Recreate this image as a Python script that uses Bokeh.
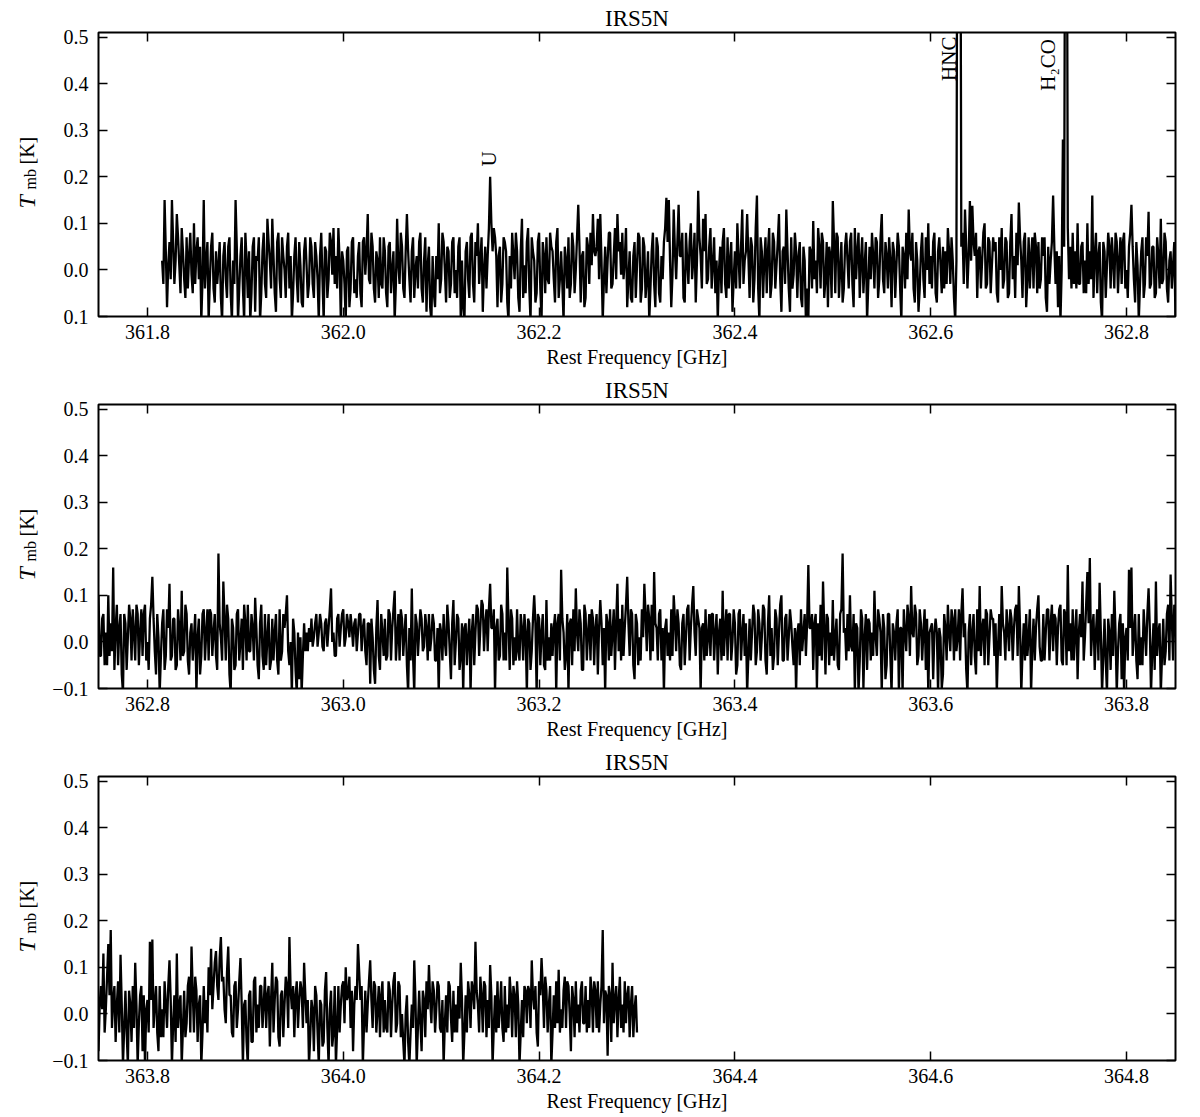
import numpy as np
from math import pi
from bokeh.plotting import figure
from bokeh.layouts import column, row
from bokeh.models import (Range1d, LinearAxis, FixedTicker, CustomJSTickFormatter,
                          ColumnDataSource)
from bokeh.embed import file_html
from bokeh.resources import INLINE
from bokeh.core.properties import value

# ---------------- data ----------------
source_name = "IRS5N"
freq_start = 361.815       # GHz, first channel
channel_width = 0.00125    # GHz

# main-beam temperature (mK) of the even channels (0, 2, 4, ...)
tmb_even_mK = [
    20, 150, -80, 60, 150, -30, 120, 10, 90, -20, 70, 30, -10, 100, 40, -20, -110, 150, 20, -110,
    50, -40, 40, 10, -60, 30, -20, 50, -50, 20, 150, -110, 30, -40, 80, -60, -110, 50, -90, 20,
    -110, 40, -30, 110, 20, 110, -50, 60, -20, 70, 0, 50, -40, -110, 30, -20, 60, -70, 40, 10,
    -30, 50, -60, 30, -110, 80, -110, 40, -20, 60, 90, 30, 90, -110, 20, -110, 50, -40, 70, -20,
    30, -50, 60, -10, 120, -30, 50, -70, 20, 70, -40, 40, -80, 60, 0, -110, 110, -30, 50, -60,
    120, -20, 40, -60, 30, 60, -40, 20, -90, 50, -110, -50, 30, 100, -20, 60, -70, 40, -30, 70,
    0, 50, -110, -80, 40, -20, 70, -30, 60, 100, 20, -90, 50, 30, 200, 40, 70, -80, 50, -30,
    60, -70, 30, 80, -20, 40, -90, 110, 10, 60, -40, 70, 20, -50, 80, -110, 30, 70, -30, 50,
    -20, 60, -60, 40, -110, 20, 70, -30, 50, 0, 140, -70, 40, -60, 50, 80, 120, 30, 110, 120,
    -110, 50, 20, 80, -30, 90, 120, 60, 80, 20, -80, 40, -70, 60, 10, 70, -40, 50, -20, -110,
    40, -30, 70, -50, 30, 60, 155, 150, -80, 130, -20, 140, 30, -60, 80, -30, 100, 20, -70, 170,
    30, 110, 120, -20, 90, 10, -50, -110, 50, 60, -30, 70, 20, -90, 40, 100, -40, 130, 20, 120,
    -60, 50, -20, 160, -110, 40, 20, -50, 90, -30, 60, 10, 120, -90, 50, 130, -40, 70, -10, 40,
    30, -60, 50, -110, -110, 40, 105, 20, 90, -40, 60, -20, -80, 30, 148, -50, 70, 0, -70, 50,
    20, 60, -30, 90, 40, -60, 70, 10, -110, 50, 80, -40, 60, -20, 120, -50, 30, 70, -80, 40,
    10, 50, -110, 30, 80, 130, 20, -40, 60, -90, 40, -20, 70, 100, 30, 60, -50, 40, 10, 50,
    40, 90, -30, 20, -110, 1250, 1150, 80, 130, -40, 148, 138, 30, -60, 50, 20, 100, -30, 60, 10,
    40, -50, 70, 90, -20, 60, -50, 120, 30, 80, 145, 20, 60, -80, 70, 30, -40, 50, 60, -20,
    30, -60, 50, 20, 160, -30, -80, -110, 280, 1050, 90, 50, 80, 40, 100, -30, 60, 20, 100, 40,
    160, 30, -50, 60, -110, 40, 10, 50, 70, -40, 60, 20, -30, 80, 0, 50, 140, -20, 60, -110,
    40, -60, 70, 125, -30, 50, -50, 30, 110, -20, 60, -70, 40, 10, -110, 50, -30, 70, 20, -40,
    60, 20, -30, 190, 10, 130, -40, 50, -110, 30, -50, 70, 0, -60, 40, 80, -20, 30, 95, -50,
    40, -30, 60, 10, -60, 50, 20, -40, 70, -20, 30, 100, -50, -110, 20, -110, -80, -110, 40, 20,
    30, 50, 10, 60, 20, 40, -20, 50, 30, 115, 20, -30, 60, 30, 70, 10, 40, 60, -10, 50,
    20, 60, 30, -20, 40, -90, 10, -90, 90, -60, 20, 50, -30, 60, 30, 110, 10, -40, 50, 20,
    -50, 30, 115, -110, 40, 20, 50, -10, 30, 60, 10, 40, -40, -110, 20, 60, -30, 40, -80, 90,
    0, 50, -30, -110, 40, 10, -110, 60, 20, 70, 30, 80, 40, -20, 125, 30, -110, 50, -30, 60,
    20, 160, -60, 50, 10, 70, -40, 30, 60, -110, 40, -20, 100, -110, 50, 20, -50, 90, 10, 40,
    30, -110, 60, 155, 20, -30, -110, 50, 70, 115, -20, 40, -60, 60, 20, -40, 50, 30, -70, 90,
    -50, -110, 40, 70, 20, -60, 125, 50, 80, 30, 140, -30, 60, -80, 40, 10, 70, 125, -20, 50,
    80, 150, 30, 60, -40, -110, 50, 20, 70, 100, -20, 40, -60, 60, 10, 80, 30, 120, -30, 50,
    -110, 40, 70, 10, -30, 60, 20, -70, 50, 110, 30, -40, 60, 0, 40, -50, 70, 20, -30, -110,
    50, 20, 60, -20, 40, 10, 70, -70, 100, 30, -30, 50, 20, 100, -40, 60, 10, 40, -50, -110,
    40, 70, 20, -30, 165, 30, -60, 60, 40, 80, 130, -70, 50, 20, 90, 10, -50, 60, 190, 30,
    60, 100, -20, -110, 30, -40, 50, 10, -60, 40, 20, 110, -30, 50, -110, 30, -50, 60, -110, 20,
    40, -110, 30, 70, -20, 50, 120, 10, 60, -30, 40, 20, -60, -110, 30, -80, 50, -110, 10, -70,
    30, 80, -20, 50, 70, 10, -40, 115, 40, -110, 60, 20, -30, 70, 120, 30, -50, 60, 10, 50,
    -30, -110, 60, 120, 20, 70, -20, 50, 30, 80, 120, -110, 40, 60, 10, -110, 50, 30, 100, -40,
    60, 20, 70, 40, -20, 50, 30, 80, -50, 60, 165, 40, 70, 20, -80, 60, 130, 10, 150, 180,
    30, -60, 70, 127, -110, 50, -110, 20, 60, 110, -110, 40, -80, -110, 30, 155, 160, 20, -40, 60,
    10, 70, -30, 115, -110, 40, 130, 20, -110, 50, -20, 80, 145, -40, 50, 20, -110, 60, 30, 100,
    140, 60, 135, 30, 165, 80, -20, 145, 40, -50, 70, 10, 120, -110, 30, -110, 50, -60, 80, 20,
    60, -30, 80, 40, -70, 110, 30, 70, -70, 50, 20, 60, 165, 10, -50, 70, 30, 50, 110, -20,
    -110, 30, -80, 40, -110, 20, -60, 90, -110, 50, -40, -110, 60, 20, 70, 100, 40, -30, -80, 60,
    150, 30, -110, 50, 20, 115, -30, 60, 10, -50, 70, 30, -40, 50, 20, 90, -20, 60, 0, -110,
    40, -110, 20, 115, -110, 50, -80, 30, 70, 105, -20, 50, 10, 60, -40, -110, 40, 70, -10, 50,
    20, 60, 110, -110, 40, 70, -30, 50, 155, 20, 80, -40, 60, 30, 105, -110, 40, 70, 10, -30,
    60, 20, 80, -50, 40, 70, -110, 30, 60, -20, 50, 115, 10, -40, 70, 120, -30, 50, 20, -110,
    40, 70, 95, 10, 50, -30, 60, -80, 30, 70, 20, 50, -20, 60, 30, 80, -40, 50, 70, 20,
    180, 50, -90, 40, 110, 30, -50, 80, 20, 70, 40, -50, 60, 10, -40,
]
# main-beam temperature (mK) of the odd channels (1, 3, 5, ...)
tmb_odd_mK = [
    -30, 40, 10, -20, 60, 20, 70, -50, 40, -60, -40, 80, -50, -30, 70, 50, -20, -40, 60, -20,
    80, -70, -30, 60, -110, 60, -60, 70, -110, -30, 50, -40, 70, -110, 20, 40, -50, 70, 30, 70,
    -50, 80, -60, 60, -40, 30, -90, 80, -60, 30, -60, 80, 30, -50, 70, -70, 10, -80, 70, -60,
    70, -30, 60, -20, 30, -20, 50, -60, 80, -10, -30, -40, 20, 40, -30, 40, -80, 60, -50, -60,
    60, -80, 70, 40, -20, 80, -40, 40, -60, -30, 70, -50, 50, -50, 40, -30, 10, 80, -40, 40,
    40, -70, 70, 0, -40, 80, -70, 70, 10, -80, 30, -80, -20, -50, 80, 0, 50, -60, 60, -50,
    -60, 70, 20, -110, 60, -60, 80, -70, 30, -30, 70, 0, -40, 90, 100, 90, 30, 30, -70, 70,
    40, -110, -40, 30, 80, -60, 40, -60, -50, 90, -110, 40, -70, 60, -40, 60, -50, -20, 80, 40,
    -70, 90, -20, -30, 50, -40, -60, 80, -50, 70, 50, 30, -80, 70, -30, 10, 40, 50, -20, 20,
    -20, -50, 80, -40, 30, -20, 40, -10, -20, 90, -20, -60, 30, -60, 80, -70, 70, -60, 40, -40,
    80, -80, 50, -70, -20, 90, 60, 20, -10, 40, 60, 30, 80, -70, 20, 60, -20, 80, 20, 70,
    -40, 40, -30, 50, -40, 70, 20, 0, -50, 90, -60, -40, 60, -20, -40, 30, 50, -30, 40, 30,
    70, -70, 90, -40, 70, -60, 70, 40, -60, 80, -40, 60, -20, 40, -30, 40, -90, -40, 80, -60,
    60, -80, 20, -40, 50, -40, -20, -50, 50, 80, -60, 60, 50, -60, 60, 80, -60, 60, -40, 80,
    -40, 80, -80, -20, 80, 20, -50, 60, -30, -20, 30, 70, -60, 70, -20, 60, -40, 20, 60, -60,
    80, -40, 50, -40, -20, 40, 80, -70, 20, -40, 80, -60, 0, -30, -40, 80, -70, 70, -50, -40,
    -30, 40, 70, -60, 20, 1300, 50, -30, 50, 30, 20, 60, 80, 40, -40, 80, -40, 70, -50, 70,
    60, -70, 0, -40, 70, -60, 60, -20, -60, 10, 70, -60, 80, -20, -40, 70, 80, -50, -40, 70,
    70, -90, -30, 60, 50, 40, 30, 0, 50, 1100, -20, -40, -30, -40, -30, 50, -50, -50, -30, -20,
    -60, 80, 30, -70, 60, -60, 80, -40, 20, 80, -50, 70, 60, -40, -60, 80, 50, -70, 10, -30,
    70, -30, 30, -40, 50, -60, 70, -40, -30, 80, -40, 20, -40, 60, 10, -70, 60, -40, 70, 70,
    -30, 60, -60, 40, -40, 50, 80, -70, 50, -60, 60, -40, 50, 80, -40, -20, 60, -40, 30, -80,
    80, -60, -50, 60, -40, -40, 60, -70, -40, 60, 60, -20, 0, 50, -60, 20, 10, -30, -20, -20,
    0, -10, 40, -10, 60, -10, 40, -10, 70, 0, -30, 50, -10, 60, -10, 60, 10, 30, 40, -20,
    60, -20, 50, -50, 40, 50, -60, 30, -30, 60, -30, -40, 70, -40, 70, -40, 60, 70, -30, 60,
    -110, -40, -30, 60, -30, 70, -20, 60, -40, -20, 60, -40, 30, 40, -40, 0, 80, -20, 40, -50,
    60, -60, 40, 30, -50, 50, 20, -50, 80, -30, 90, -20, 70, 70, 30, 70, 30, -40, 80, -40,
    -40, 40, 70, -50, -40, -20, 60, -40, 20, 50, -60, 50, 40, 60, -50, 60, -60, -40, -40, -30,
    60, 40, -40, 50, -60, 60, 40, -50, -20, 20, 70, -60, 80, -40, 60, 70, -50, 60, 30, 40,
    30, 60, -40, -30, 70, 40, -20, -40, -30, 80, 40, 70, -50, 60, -50, -40, 10, 60, 80, -40,
    -20, 40, -40, 70, 30, 30, -30, -40, -30, 50, 70, -50, 40, -50, 70, -40, 80, 20, 70, 30,
    30, -40, -30, 60, 60, -40, 60, 20, -40, -30, 70, 60, -40, 70, -70, 60, -40, 60, 40, -30,
    -40, 80, -50, 70, -40, 80, -40, 40, -30, -60, 70, -50, 80, -40, 50, -40, 70, -10, 30, 20,
    -50, -20, 60, 40, 30, 60, 40, -100, -30, -40, 30, 60, -50, -30, -40, 50, -60, 70, 20, -40,
    -20, -10, 60, 40, -110, 70, -100, 60, 50, -40, -30, 10, 70, 20, 60, -80, 60, -30, 40, -40,
    70, 30, -110, 20, 80, -30, 20, 80, -50, 70, -40, 70, 50, 20, 40, 20, 20, 30, -100, 60,
    -40, 20, 70, -40, -20, 70, 60, 10, -60, 20, -50, 60, -70, -20, -30, 50, 70, -50, 70, 50,
    40, -10, -30, 40, -40, 30, 70, -40, 70, -30, 30, -20, -40, -30, 70, -10, -40, 70, -10, -40,
    -40, 70, -40, 80, 60, -50, 70, -40, 70, -50, -20, -40, -40, 70, 20, 10, -40, 80, 40, -30,
    60, 20, -40, 20, -30, -40, 50, -60, -30, 20, -20, 60, 40, 10, -40, 30, -30, 60, -80, -50,
    -50, 20, 60, 30, -20, -60, -30, 40, -30, -50, 60, -40, 50, 80, -60, 40, -40, -20, -40, 40,
    10, 110, 60, 120, 70, 10, 90, 40, -40, 60, -30, 70, 20, 20, -60, 40, -60, 70, -40, -30,
    60, 20, -30, 60, 30, -40, 80, -50, 40, -50, 80, -30, 50, 60, 40, -30, 70, -30, 40, 30,
    -50, 10, 60, -40, 30, -70, 50, -30, 10, -70, 60, -30, -40, 60, -20, 30, 80, 50, 20, 30,
    90, 60, -20, -40, 70, 30, 70, -40, 60, 40, -40, -30, 70, -50, 70, -40, 70, -50, -60, 0,
    -60, -40, -30, 30, -30, -20, 50, -50, 10, 30, 70, -40, 70, -30, 30, -20, -40, 60, -60, -40,
    -40, -10, 30, -40, -40, 40, 70, 10, 50, -40, 40, 70, -50, -30, 40, -30, -40, -30, 70, -60,
    -40, -30, 40, 60, -50, 20, -40, -50, 50, 60, -30, 40, 60, -70, 40, 60, 80, -40, 60, -40,
    -30, -20, -40, -30, 80, 70, 0, 60, -50, -20, -40, 70, -20, -40, -30, 50, 70, -30, -40, 60,
    -20, 40, 60, -60, -20, 60, 30, -30, -40, -20, 60, 20, -50, 40,
]

# interleave the even and odd channels into one spectrum
n_odd = min(len(tmb_odd_mK), len(tmb_even_mK) - 1)
tmb = np.empty(len(tmb_even_mK[:n_odd + 1]) + n_odd)
tmb[0::2] = np.array(tmb_even_mK[:n_odd + 1]) / 1000.0
tmb[1::2] = np.array(tmb_odd_mK[:n_odd]) / 1000.0
freq = freq_start + channel_width * np.arange(len(tmb))

window_starts = [361.75, 362.75, 363.75]
window_ends = [362.85, 363.85, 364.85]
x_ticks = [[361.8, 362.0, 362.2, 362.4, 362.6, 362.8],
           [362.8, 363.0, 363.2, 363.4, 363.6, 363.8],
           [363.8, 364.0, 364.2, 364.4, 364.6, 364.8]]
y_ticks = [-0.1, 0.0, 0.1, 0.2, 0.3, 0.4, 0.5]
y_min, y_max = -0.1, 0.51
neg_tick_labels = ["0.1", "\u22120.1", "\u22120.1"]

line_names = ["U", "HNC", "H\u2082CO"]
line_label_freqs = [362.1487, 362.6185, 362.7197]
line_label_y = [0.222, 0.406, 0.385]

# ---------------- layout constants ----------------
FONT = "Liberation Serif"
LBL_W = 45                      # width of the strip holding the y-axis title
FRAME_W, FRAME_H = 1077, 284
BORDER_L, BORDER_R, BORDER_T = 98 - LBL_W, 10, 32
PX_PER_Y = FRAME_H / (y_max - y_min)

src = ColumnDataSource(data=dict(freq=freq, tmb=tmb))
lab_src = ColumnDataSource(data=dict(x=line_label_freqs, y=line_label_y, t=line_names))


def style_axis(ax, ticker, formatter, show_labels, standoff=8):
    ax.ticker = ticker
    ax.formatter = formatter
    ax.axis_line_color = None
    ax.major_tick_in = 9
    ax.major_tick_out = 0
    ax.major_tick_line_width = 1.5
    ax.major_tick_line_color = "black"
    ax.minor_tick_line_color = None
    ax.major_label_text_font = FONT
    if show_labels:
        ax.major_label_text_color = "black"
        ax.major_label_text_font_size = "20px"
        ax.major_label_standoff = standoff
    else:
        ax.major_label_text_color = None
        ax.major_label_text_font_size = "1px"
        ax.major_label_standoff = 0


def make_ylabel_strip(height):
    # the strip's frame lines up with the panel frame, so use the same y range
    f = figure(width=LBL_W, height=height, x_range=Range1d(0, LBL_W),
               y_range=Range1d(y_min, y_max), output_backend="svg",
               toolbar_location=None, x_axis_type=None, y_axis_type=None,
               min_border=0)
    f.outline_line_color = None
    f.background_fill_color = "white"
    f.border_fill_color = "white"
    common = dict(angle=pi / 2, text_align="left", text_baseline="middle",
                  text_font=value(FONT), text_color="black")
    f.text(x=[26], y=[y_min + 108 / PX_PER_Y], text=["T"], text_font_style="italic",
           text_font_size="24px", **common)
    f.text(x=[29.5], y=[y_min + 127 / PX_PER_Y], text=["mb"], text_font_size="16px", **common)
    f.text(x=[26], y=[y_min + 152 / PX_PER_Y], text=["[K]"], text_font_size="20px", **common)
    return f


def make_panel(idx, height):
    bottom = height - BORDER_T - FRAME_H
    p = figure(width=BORDER_L + FRAME_W + BORDER_R, height=height,
               x_range=Range1d(window_starts[idx], window_ends[idx]),
               y_range=Range1d(y_min, y_max),
               output_backend="svg", toolbar_location=None,
               title=source_name,
               min_border_left=BORDER_L, min_border_right=BORDER_R,
               min_border_top=BORDER_T, min_border_bottom=bottom)
    p.title.align = "center"
    p.title.text_font = FONT
    p.title.text_font_size = "23px"
    p.title.text_font_style = "normal"
    p.title.text_color = "black"
    p.title.standoff = 4
    p.xgrid.visible = False
    p.ygrid.visible = False
    p.outline_line_color = "black"
    p.outline_line_width = 2
    p.outline_line_alpha = 1.0
    p.background_fill_color = "white"
    p.border_fill_color = "white"

    xt = FixedTicker(ticks=x_ticks[idx])
    yt = FixedTicker(ticks=y_ticks)
    xfmt = CustomJSTickFormatter(code="return tick.toFixed(1);")
    yfmt = CustomJSTickFormatter(
        code='return (tick < -0.05) ? "%s" : tick.toFixed(1);' % neg_tick_labels[idx])

    style_axis(p.xaxis[0], xt, xfmt, True, standoff=8)
    style_axis(p.yaxis[0], yt, yfmt, True, standoff=10)
    xa = p.xaxis[0]
    xa.axis_label = "Rest Frequency [GHz]"
    xa.axis_label_text_font = FONT
    xa.axis_label_text_font_size = "20px"
    xa.axis_label_text_font_style = "normal"
    xa.axis_label_text_color = "black"
    xa.axis_label_standoff = 4

    top = LinearAxis()
    style_axis(top, xt, xfmt, False)
    p.add_layout(top, "above")
    right = LinearAxis()
    style_axis(right, yt, yfmt, False)
    p.add_layout(right, "right")

    p.line("freq", "tmb", source=src, line_color="black", line_width=2.3)
    if idx == 0:
        p.text("x", "y", text="t", source=lab_src, angle=pi / 2,
               text_align="left", text_baseline="middle",
               text_font=value(FONT), text_font_size="21px", text_color="black")
    return p


heights = [372, 372, 373]
rows = [row(make_ylabel_strip(h), make_panel(i, h)) for i, h in enumerate(heights)]
layout = column(*rows)

open("out.html", "w").write(file_html(layout, INLINE))
